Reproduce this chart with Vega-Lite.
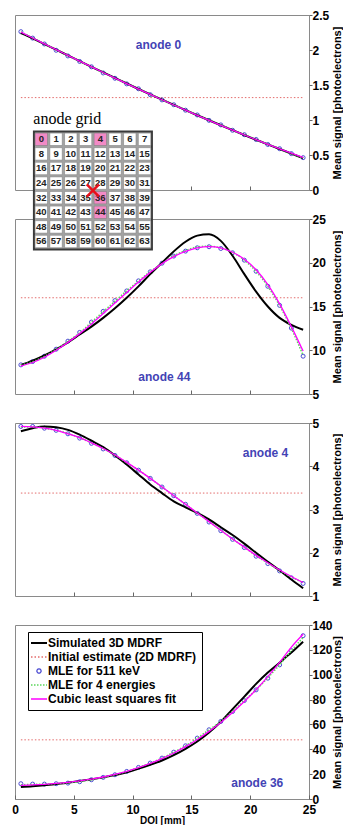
{
"$schema": "https://vega.github.io/schema/vega-lite/v6.json",
"padding": {"left": 11, "top": 8, "right": 0, "bottom": 0},
"autosize": {"type": "pad"},
"spacing": 29,
"bounds": "flush",
"resolve": {"legend": {"color": "independent"}, "scale": {"color": "independent"}},
"datasets": {
"p1": [
{"x":0.5,"S":2.24,"I":1.32,"M":2.262,"G":2.26,"C":2.255},
{"x":1.5,"S":2.165,"I":1.32,"M":2.170,"G":2.174,"C":2.171},
{"x":2.5,"S":2.085,"I":1.32,"M":2.086,"G":2.089,"C":2.088},
{"x":3.5,"S":2.004,"I":1.32,"M":1.996,"G":2.004,"C":2.005},
{"x":4.5,"S":1.922,"I":1.32,"M":1.915,"G":1.921,"C":1.923},
{"x":5.5,"S":1.840,"I":1.32,"M":1.836,"G":1.839,"C":1.841},
{"x":6.5,"S":1.759,"I":1.32,"M":1.760,"G":1.757,"C":1.760},
{"x":7.5,"S":1.679,"I":1.32,"M":1.672,"G":1.677,"C":1.679},
{"x":8.5,"S":1.600,"I":1.32,"M":1.596,"G":1.598,"C":1.599},
{"x":9.5,"S":1.521,"I":1.32,"M":1.516,"G":1.519,"C":1.520},
{"x":10.5,"S":1.443,"I":1.32,"M":1.446,"G":1.442,"C":1.442},
{"x":11.5,"S":1.366,"I":1.32,"M":1.362,"G":1.365,"C":1.365},
{"x":12.5,"S":1.290,"I":1.32,"M":1.287,"G":1.290,"C":1.289},
{"x":13.5,"S":1.215,"I":1.32,"M":1.218,"G":1.215,"C":1.214},
{"x":14.5,"S":1.141,"I":1.32,"M":1.140,"G":1.142,"C":1.140},
{"x":15.5,"S":1.068,"I":1.32,"M":1.072,"G":1.069,"C":1.067},
{"x":16.5,"S":0.996,"I":1.32,"M":0.995,"G":0.997,"C":0.995},
{"x":17.5,"S":0.925,"I":1.32,"M":0.930,"G":0.927,"C":0.924},
{"x":18.5,"S":0.855,"I":1.32,"M":0.853,"G":0.857,"C":0.854},
{"x":19.5,"S":0.786,"I":1.32,"M":0.790,"G":0.788,"C":0.786},
{"x":20.5,"S":0.718,"I":1.32,"M":0.722,"G":0.720,"C":0.719},
{"x":21.5,"S":0.651,"I":1.32,"M":0.650,"G":0.654,"C":0.653},
{"x":22.5,"S":0.585,"I":1.32,"M":0.590,"G":0.588,"C":0.589},
{"x":23.5,"S":0.520,"I":1.32,"M":0.520,"G":0.523,"C":0.526},
{"x":24.5,"S":0.455,"I":1.32,"M":0.462,"G":0.459,"C":0.465}
],
"p2": [
{"x":0.5,"S":8.3,"I":16,"M":8.33,"G":8.3,"C":8.2},
{"x":1.5,"S":8.8,"I":16,"M":8.71,"G":8.7,"C":8.6},
{"x":2.5,"S":9.4,"I":16,"M":9.32,"G":9.3,"C":9.2},
{"x":3.5,"S":10.1,"I":16,"M":10.12,"G":10.1,"C":10.0},
{"x":4.5,"S":10.9,"I":16,"M":11.04,"G":11.0,"C":10.9},
{"x":5.5,"S":11.8,"I":16,"M":12.04,"G":12.0,"C":11.9},
{"x":6.5,"S":12.7,"I":16,"M":13.22,"G":13.2,"C":13.0},
{"x":7.5,"S":13.7,"I":16,"M":14.45,"G":14.4,"C":14.2},
{"x":8.5,"S":14.8,"I":16,"M":15.67,"G":15.6,"C":15.4},
{"x":9.5,"S":16.0,"I":16,"M":16.78,"G":16.8,"C":16.6},
{"x":10.5,"S":17.3,"I":16,"M":17.93,"G":17.9,"C":17.8},
{"x":11.5,"S":18.7,"I":16,"M":18.96,"G":19.0,"C":18.9},
{"x":12.5,"S":20.0,"I":16,"M":19.95,"G":19.9,"C":19.9},
{"x":13.5,"S":21.3,"I":16,"M":20.76,"G":20.8,"C":20.7},
{"x":14.5,"S":22.4,"I":16,"M":21.33,"G":21.4,"C":21.3},
{"x":15.5,"S":23.1,"I":16,"M":21.71,"G":21.8,"C":21.7},
{"x":16.5,"S":23.25,"I":16,"M":21.83,"G":21.9,"C":21.85},
{"x":17.5,"S":22.5,"I":16,"M":21.63,"G":21.7,"C":21.7},
{"x":18.5,"S":20.8,"I":16,"M":21.14,"G":21.2,"C":21.2},
{"x":19.5,"S":18.7,"I":16,"M":20.30,"G":20.3,"C":20.4},
{"x":20.5,"S":16.7,"I":16,"M":19.03,"G":19.0,"C":19.2},
{"x":21.5,"S":15.0,"I":16,"M":17.31,"G":17.3,"C":17.5},
{"x":22.5,"S":13.7,"I":16,"M":15.13,"G":15.1,"C":15.3},
{"x":23.5,"S":12.9,"I":16,"M":12.53,"G":12.5,"C":12.7},
{"x":24.5,"S":12.35,"I":16,"M":9.32,"G":9.4,"C":9.9}
],
"p3": [
{"x":0.5,"S":4.81,"I":3.38,"M":4.92,"C":4.92,"G":4.91},
{"x":1.5,"S":4.88,"I":3.38,"M":4.92,"C":4.91,"G":4.91},
{"x":2.5,"S":4.92,"I":3.38,"M":4.88,"C":4.88,"G":4.88},
{"x":3.5,"S":4.90,"I":3.38,"M":4.83,"C":4.83,"G":4.83},
{"x":4.5,"S":4.84,"I":3.38,"M":4.75,"C":4.75,"G":4.76},
{"x":5.5,"S":4.73,"I":3.38,"M":4.65,"C":4.66,"G":4.66},
{"x":6.5,"S":4.59,"I":3.38,"M":4.53,"C":4.54,"G":4.54},
{"x":7.5,"S":4.44,"I":3.38,"M":4.40,"C":4.41,"G":4.41},
{"x":8.5,"S":4.25,"I":3.38,"M":4.25,"C":4.26,"G":4.26},
{"x":9.5,"S":4.04,"I":3.38,"M":4.08,"C":4.09,"G":4.08},
{"x":10.5,"S":3.81,"I":3.38,"M":3.91,"C":3.91,"G":3.91},
{"x":11.5,"S":3.58,"I":3.38,"M":3.72,"C":3.72,"G":3.72},
{"x":12.5,"S":3.38,"I":3.38,"M":3.52,"C":3.52,"G":3.52},
{"x":13.5,"S":3.19,"I":3.38,"M":3.32,"C":3.32,"G":3.32},
{"x":14.5,"S":3.05,"I":3.38,"M":3.12,"C":3.12,"G":3.12},
{"x":15.5,"S":2.92,"I":3.38,"M":2.91,"C":2.92,"G":2.92},
{"x":16.5,"S":2.77,"I":3.38,"M":2.71,"C":2.72,"G":2.72},
{"x":17.5,"S":2.59,"I":3.38,"M":2.51,"C":2.52,"G":2.52},
{"x":18.5,"S":2.41,"I":3.38,"M":2.31,"C":2.32,"G":2.32},
{"x":19.5,"S":2.21,"I":3.38,"M":2.12,"C":2.13,"G":2.13},
{"x":20.5,"S":2.00,"I":3.38,"M":1.92,"C":1.94,"G":1.93},
{"x":21.5,"S":1.79,"I":3.38,"M":1.75,"C":1.77,"G":1.76},
{"x":22.5,"S":1.59,"I":3.38,"M":1.58,"C":1.60,"G":1.59},
{"x":23.5,"S":1.38,"I":3.38,"M":1.42,"C":1.45,"G":1.44},
{"x":24.5,"S":1.18,"I":3.38,"M":1.29,"C":1.31,"G":1.31}
],
"p4": [
{"x":0.5,"S":9.6,"I":47.6,"M":12.3,"C":11.0,"G":11.5},
{"x":1.5,"S":10.2,"I":47.6,"M":12.0,"C":11.3,"G":11.7},
{"x":2.5,"S":11.0,"I":47.6,"M":12.0,"C":11.8,"G":12.0},
{"x":3.5,"S":12.0,"I":47.6,"M":12.3,"C":12.5,"G":12.4},
{"x":4.5,"S":13.1,"I":47.6,"M":12.8,"C":13.4,"G":13.0},
{"x":5.5,"S":14.5,"I":47.6,"M":13.9,"C":14.6,"G":14.0},
{"x":6.5,"S":15.8,"I":47.6,"M":15.5,"C":16.0,"G":15.5},
{"x":7.5,"S":17.4,"I":47.6,"M":17.4,"C":17.7,"G":17.4},
{"x":8.5,"S":19.3,"I":47.6,"M":19.5,"C":19.8,"G":19.5},
{"x":9.5,"S":21.4,"I":47.6,"M":22.2,"C":22.3,"G":22.2},
{"x":10.5,"S":24.4,"I":47.6,"M":25.4,"C":25.2,"G":25.4},
{"x":11.5,"S":27.6,"I":47.6,"M":28.9,"C":28.6,"G":28.9},
{"x":12.5,"S":31.0,"I":47.6,"M":32.9,"C":32.5,"G":32.9},
{"x":13.5,"S":35.3,"I":47.6,"M":37.7,"C":37.0,"G":37.7},
{"x":14.5,"S":40.4,"I":47.6,"M":42.8,"C":42.1,"G":42.8},
{"x":15.5,"S":46.3,"I":47.6,"M":49.0,"C":47.9,"G":49.0},
{"x":16.5,"S":53.5,"I":47.6,"M":55.7,"C":54.4,"G":55.7},
{"x":17.5,"S":62.1,"I":47.6,"M":62.4,"C":61.6,"G":62.4},
{"x":18.5,"S":72.3,"I":47.6,"M":70.4,"C":69.6,"G":70.4},
{"x":19.5,"S":82.4,"I":47.6,"M":79.2,"C":78.4,"G":79.2},
{"x":20.5,"S":92.6,"I":47.6,"M":87.8,"C":88.0,"G":87.8},
{"x":21.5,"S":101.7,"I":47.6,"M":97.2,"C":98.5,"G":97.5},
{"x":22.5,"S":109.7,"I":47.6,"M":107.9,"C":109.9,"G":108.0},
{"x":23.5,"S":117.8,"I":47.6,"M":119.4,"C":122.2,"G":119.4},
{"x":24.5,"S":126.6,"I":47.6,"M":131.4,"C":132.5,"G":130.0}
],
"grid": [
{"n":0,"c":0,"r":0},{"n":1,"c":1,"r":0},{"n":2,"c":2,"r":0},{"n":3,"c":3,"r":0},{"n":4,"c":4,"r":0},{"n":5,"c":5,"r":0},{"n":6,"c":6,"r":0},{"n":7,"c":7,"r":0},
{"n":8,"c":0,"r":1},{"n":9,"c":1,"r":1},{"n":10,"c":2,"r":1},{"n":11,"c":3,"r":1},{"n":12,"c":4,"r":1},{"n":13,"c":5,"r":1},{"n":14,"c":6,"r":1},{"n":15,"c":7,"r":1},
{"n":16,"c":0,"r":2},{"n":17,"c":1,"r":2},{"n":18,"c":2,"r":2},{"n":19,"c":3,"r":2},{"n":20,"c":4,"r":2},{"n":21,"c":5,"r":2},{"n":22,"c":6,"r":2},{"n":23,"c":7,"r":2},
{"n":24,"c":0,"r":3},{"n":25,"c":1,"r":3},{"n":26,"c":2,"r":3},{"n":27,"c":3,"r":3},{"n":28,"c":4,"r":3},{"n":29,"c":5,"r":3},{"n":30,"c":6,"r":3},{"n":31,"c":7,"r":3},
{"n":32,"c":0,"r":4},{"n":33,"c":1,"r":4},{"n":34,"c":2,"r":4},{"n":35,"c":3,"r":4},{"n":36,"c":4,"r":4},{"n":37,"c":5,"r":4},{"n":38,"c":6,"r":4},{"n":39,"c":7,"r":4},
{"n":40,"c":0,"r":5},{"n":41,"c":1,"r":5},{"n":42,"c":2,"r":5},{"n":43,"c":3,"r":5},{"n":44,"c":4,"r":5},{"n":45,"c":5,"r":5},{"n":46,"c":6,"r":5},{"n":47,"c":7,"r":5},
{"n":48,"c":0,"r":6},{"n":49,"c":1,"r":6},{"n":50,"c":2,"r":6},{"n":51,"c":3,"r":6},{"n":52,"c":4,"r":6},{"n":53,"c":5,"r":6},{"n":54,"c":6,"r":6},{"n":55,"c":7,"r":6},
{"n":56,"c":0,"r":7},{"n":57,"c":1,"r":7},{"n":58,"c":2,"r":7},{"n":59,"c":3,"r":7},{"n":60,"c":4,"r":7},{"n":61,"c":5,"r":7},{"n":62,"c":6,"r":7},{"n":63,"c":7,"r":7}
]
},
"vconcat": [
{
"width": 294, "height": 175,
"data": {"name": "p1"},
"transform": [{"fold": ["S", "I", "M", "G", "C"], "as": ["s", "y"]}],
"encoding": {
"x": {"field": "x", "type": "quantitative", "scale": {"domain": [0, 25], "nice": false}, "axis": {"labels": false, "title": null, "values": [5, 10, 15, 20]}},
"y": {"field": "y", "type": "quantitative", "scale": {"domain": [0, 2.5], "nice": false, "zero": false}, "axis": {"orient": "right", "values": [0, 0.5, 1, 1.5, 2, 2.5], "labelOverlap": false, "format": "~r", "title": "Mean signal [photoelectrons]"}}
},
"layer": [
{"transform": [{"filter": "datum.s == 'I'"}], "mark": {"type": "line", "color": "#e36b6b", "strokeDash": [1.5, 2], "strokeWidth": 1}},
{"transform": [{"filter": "datum.s == 'M'"}], "mark": {"type": "point", "shape": "circle", "filled": false, "size": 16, "strokeWidth": 1, "opacity": 1, "color": "#4b4bd2"}},
{"transform": [{"filter": "datum.s == 'S'"}], "mark": {"type": "line", "color": "#000000", "strokeWidth": 2, "interpolate": "monotone"}},
{"transform": [{"filter": "datum.s == 'G'"}], "mark": {"type": "line", "color": "#5cd65c", "strokeDash": [1.5, 1.5], "strokeWidth": 1.5, "interpolate": "monotone"}},
{"transform": [{"filter": "datum.s == 'C'"}], "mark": {"type": "line", "color": "#ff00ff", "strokeWidth": 1.3, "interpolate": "monotone"}},
{"data": {"values": [{"x": 12.2, "y": 2.07, "t": "anode 0"}]}, "mark": {"type": "text", "fontWeight": "bold", "fontSize": 12, "color": "#4343b5", "align": "center", "baseline": "middle"}, "encoding": {"text": {"field": "t"}}}
]
},
{
"width": 294, "height": 175,
"resolve": {"scale": {"x": "independent", "y": "independent"}},
"layer": [
{
"data": {"name": "p2"},
"transform": [{"fold": ["S", "I", "M", "G", "C"], "as": ["s", "y"]}],
"encoding": {
"x": {"field": "x", "type": "quantitative", "scale": {"domain": [0, 25], "nice": false}, "axis": {"labels": false, "title": null, "values": [5, 10, 15, 20]}},
"y": {"field": "y", "type": "quantitative", "scale": {"domain": [5, 25], "nice": false, "zero": false}, "axis": {"orient": "right", "values": [5, 10, 15, 20, 25], "labelOverlap": false, "format": "~r", "title": "Mean signal [photoelectrons]"}}
},
"layer": [
{"transform": [{"filter": "datum.s == 'I'"}], "mark": {"type": "line", "color": "#e36b6b", "strokeDash": [1.5, 2], "strokeWidth": 1}},
{"transform": [{"filter": "datum.s == 'M'"}], "mark": {"type": "point", "shape": "circle", "filled": false, "size": 16, "strokeWidth": 1, "opacity": 1, "color": "#4b4bd2"}},
{"transform": [{"filter": "datum.s == 'S'"}], "mark": {"type": "line", "color": "#000000", "strokeWidth": 2, "interpolate": "monotone"}},
{"transform": [{"filter": "datum.s == 'G'"}], "mark": {"type": "line", "color": "#5cd65c", "strokeDash": [1.5, 1.5], "strokeWidth": 1.5, "interpolate": "monotone"}},
{"transform": [{"filter": "datum.s == 'C'"}], "mark": {"type": "line", "color": "#ff00ff", "strokeWidth": 1.3, "interpolate": "monotone"}},
{"data": {"values": [{"x": 12.7, "y": 6.94, "t": "anode 44"}]}, "mark": {"type": "text", "fontWeight": "bold", "fontSize": 12, "color": "#4343b5", "align": "center", "baseline": "middle"}, "encoding": {"text": {"field": "t"}}}
]
},
{
"data": {"name": "grid"},
"encoding": {
"x": {"field": "c", "type": "quantitative", "scale": {"domain": [-1.783, 18.149], "nice": false, "zero": false}, "axis": null},
"y": {"field": "r", "type": "quantitative", "scale": {"domain": [5.459, 17.445], "nice": false, "zero": false, "reverse": true}, "axis": null}
},
"layer": [
{"mark": {"type": "square", "size": 13924, "fill": "#a3a3a3", "stroke": "#3a3a3a", "strokeWidth": 2, "opacity": 1}, "encoding": {"x": {"aggregate": "mean", "field": "c", "type": "quantitative"}, "y": {"aggregate": "mean", "field": "r", "type": "quantitative"}}},
{"mark": {"type": "square", "size": 156, "stroke": "#808080", "strokeWidth": 0.6, "opacity": 1}, "encoding": {"fill": {"condition": {"test": "datum.n == 0 || datum.n == 4 || datum.n == 36 || datum.n == 44", "value": "#f28ac6"}, "value": "#ffffff"}}},
{"mark": {"type": "text", "fontWeight": "bold", "fontSize": 9.5, "color": "#222222", "align": "center", "baseline": "middle"}, "encoding": {"text": {"field": "n"}}},
{"mark": {"type": "point", "shape": "M-1,-1L1,1M-1,1L1,-1", "size": 150, "stroke": "#e8101a", "strokeWidth": 2.5, "filled": false, "opacity": 1}, "encoding": {"x": {"aggregate": "mean", "field": "c", "type": "quantitative"}, "y": {"aggregate": "mean", "field": "r", "type": "quantitative"}}},
{"mark": {"type": "text", "text": "anode grid", "font": "Liberation Serif", "fontSize": 16, "align": "left", "baseline": "alphabetic", "color": "#000000", "dx": -8, "dy": -15}, "encoding": {"x": {"aggregate": "min", "field": "c", "type": "quantitative"}, "y": {"aggregate": "min", "field": "r", "type": "quantitative"}}}
]
}
]
},
{
"width": 294, "height": 173,
"data": {"name": "p3"},
"transform": [{"fold": ["S", "I", "M", "G", "C"], "as": ["s", "y"]}],
"encoding": {
"x": {"field": "x", "type": "quantitative", "scale": {"domain": [0, 25], "nice": false}, "axis": {"labels": false, "title": null, "values": [5, 10, 15, 20]}},
"y": {"field": "y", "type": "quantitative", "scale": {"domain": [1, 5], "nice": false, "zero": false}, "axis": {"orient": "right", "values": [1, 2, 3, 4, 5], "labelOverlap": false, "format": "~r", "title": "Mean signal [photoelectrons]"}}
},
"layer": [
{"transform": [{"filter": "datum.s == 'I'"}], "mark": {"type": "line", "color": "#e36b6b", "strokeDash": [1.5, 2], "strokeWidth": 1}},
{"transform": [{"filter": "datum.s == 'M'"}], "mark": {"type": "point", "shape": "circle", "filled": false, "size": 16, "strokeWidth": 1, "opacity": 1, "color": "#4b4bd2"}},
{"transform": [{"filter": "datum.s == 'S'"}], "mark": {"type": "line", "color": "#000000", "strokeWidth": 2, "interpolate": "monotone"}},
{"transform": [{"filter": "datum.s == 'G'"}], "mark": {"type": "line", "color": "#5cd65c", "strokeDash": [1.5, 1.5], "strokeWidth": 1.5, "interpolate": "monotone"}},
{"transform": [{"filter": "datum.s == 'C'"}], "mark": {"type": "line", "color": "#ff00ff", "strokeWidth": 1.3, "interpolate": "monotone"}},
{"data": {"values": [{"x": 21.3, "y": 4.31, "t": "anode 4"}]}, "mark": {"type": "text", "fontWeight": "bold", "fontSize": 12, "color": "#4343b5", "align": "center", "baseline": "middle"}, "encoding": {"text": {"field": "t"}}}
]
},
{
"width": 294, "height": 174,
"data": {"name": "p4"},
"transform": [{"fold": ["S", "I", "M", "G", "C"], "as": ["s", "y"]}],
"encoding": {
"x": {"field": "x", "type": "quantitative", "scale": {"domain": [0, 25], "nice": false}, "axis": {"title": "DOI [mm]", "values": [0, 5, 10, 15, 20, 25], "labelOverlap": false}},
"y": {"field": "y", "type": "quantitative", "scale": {"domain": [0, 140], "nice": false, "zero": false}, "axis": {"orient": "right", "values": [0, 20, 40, 60, 80, 100, 120, 140], "labelOverlap": false, "format": "~r", "title": "Mean signal [photoelectrons]"}}
},
"layer": [
{"transform": [{"filter": "datum.s == 'I'"}], "mark": {"type": "line", "strokeDash": [1.5, 2], "strokeWidth": 1}, "encoding": {
"color": {"datum": "I", "type": "nominal", "scale": {"domain": ["S", "I", "M", "G", "C"], "range": ["#000000", "#e36b6b", "#4b4bd2", "#5cd65c", "#ff00ff"]},
"legend": {"orient": "none", "legendX": 13, "legendY": 7, "title": null, "padding": 5, "strokeColor": "#000000", "fillColor": "#ffffff", "labelFont": "Liberation Sans", "labelFontSize": 12, "labelFontWeight": "bold", "labelColor": "#000000", "labelLimit": 300, "labelOffset": 3, "rowPadding": 2, "symbolType": "stroke", "symbolSize": 256, "symbolStrokeWidth": 1.5,
"labelExpr": "datum.label == 'S' ? 'Simulated 3D MDRF' : datum.label == 'I' ? 'Initial estimate (2D MDRF)' : datum.label == 'M' ? 'MLE for 511 keV' : datum.label == 'G' ? 'MLE for 4 energies' : 'Cubic least squares fit'",
"encode": {"symbols": {"update": {
"shape": {"signal": "datum.value == 'M' ? 'circle' : 'stroke'"},
"size": {"signal": "datum.value == 'M' ? 18 : 256"},
"strokeDash": {"signal": "datum.value == 'I' ? [1.5, 2] : datum.value == 'G' ? [1.5, 1.5] : [1, 0]"},
"strokeWidth": {"signal": "datum.value == 'S' ? 2 : 1.3"}
}}}}}
}},
{"transform": [{"filter": "datum.s == 'M'"}], "mark": {"type": "point", "shape": "circle", "filled": false, "size": 16, "strokeWidth": 1, "opacity": 1}, "encoding": {"color": {"datum": "M", "type": "nominal"}}},
{"transform": [{"filter": "datum.s == 'S'"}], "mark": {"type": "line", "strokeWidth": 2, "interpolate": "monotone"}, "encoding": {"color": {"datum": "S", "type": "nominal"}}},
{"transform": [{"filter": "datum.s == 'G'"}], "mark": {"type": "line", "strokeDash": [1.5, 1.5], "strokeWidth": 1.5, "interpolate": "monotone"}, "encoding": {"color": {"datum": "G", "type": "nominal"}}},
{"transform": [{"filter": "datum.s == 'C'"}], "mark": {"type": "line", "strokeWidth": 1.3, "interpolate": "monotone"}, "encoding": {"color": {"datum": "C", "type": "nominal"}}},
{"data": {"values": [{"x": 20.6, "y": 12.8, "t": "anode 36"}]}, "mark": {"type": "text", "fontWeight": "bold", "fontSize": 12, "color": "#4343b5", "align": "center", "baseline": "middle"}, "encoding": {"text": {"field": "t"}}}
]
}
],
"config": {
"font": "Liberation Sans",
"view": {"stroke": "#8a8a8a", "strokeWidth": 1},
"axis": {"grid": false, "domain": false, "tickColor": "#666666", "labelFont": "Liberation Sans", "labelFontWeight": "bold", "labelFontSize": 12, "labelColor": "#000000", "titleFont": "Liberation Sans", "titleFontWeight": "bold", "titleColor": "#000000", "labelOverlap": false, "labelFlush": false},
"axisY": {"tickSize": 3, "titleFontSize": 11, "titleAngle": 270, "titleX": 28, "titleBaseline": "middle", "titleAlign": "center", "labelPadding": 0, "labelAlign": "left"},
"axisX": {"tickSize": -4, "titleFontSize": 10, "labelPadding": 9, "titlePadding": 0}
}
}
